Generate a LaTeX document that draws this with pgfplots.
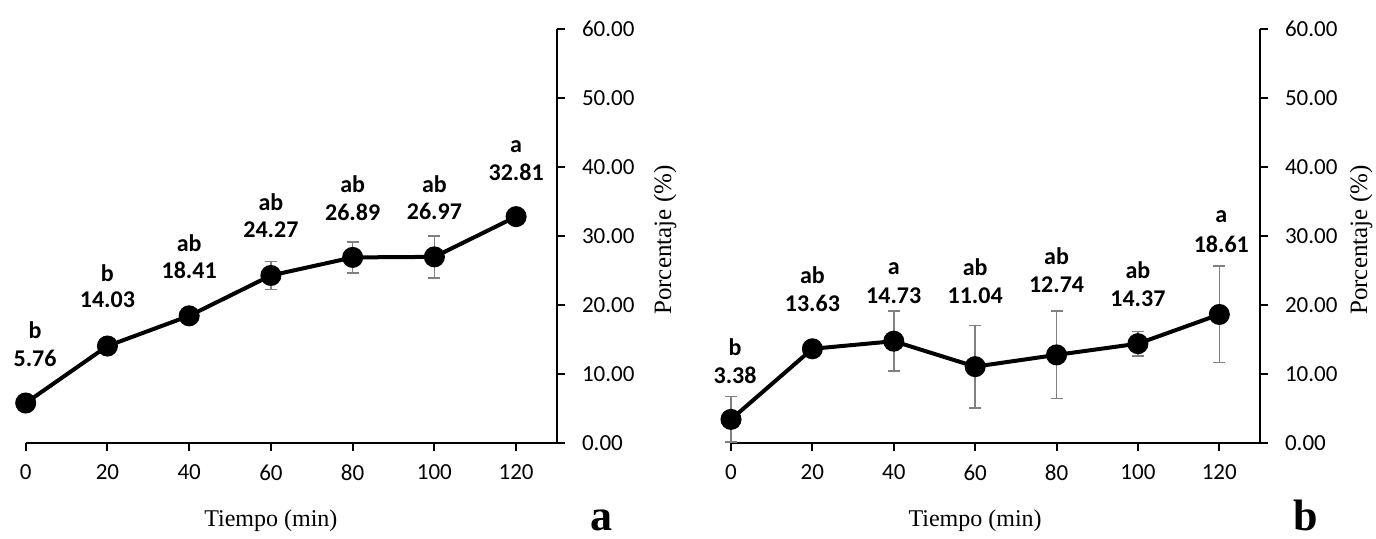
\documentclass[border=0pt]{standalone}
\usepackage{fontspec}
\setmainfont{Carlito}
\newfontfamily\timesf{Liberation Serif}
\usepackage{pgfplots}
\pgfplotsset{compat=1.18}
\usepackage{pgfplotstable}

% x: time, y: mean, e: error, lx/ly/vy: label positions, lab: letters
\pgfplotstableread{
x   y     e    lx   ly   vy   lab
0   5.76  0.5  2.3  16.3 12.2 b
20  14.03 0    20   24.6 20.7 b
40  18.41 0    40   29.0 25.0 ab
60  24.27 2.0  60   34.9 30.9 ab
80  26.89 2.25 80   37.5 33.5 ab
100 26.97 3.05 100  37.5 33.5 ab
120 32.81 1.0  120  43.0 39.2 a
}\dataA

\pgfplotstableread{
x   y     e    lx   ly   vy   lab
0   3.38  3.3  1    13.9 9.8  b
20  13.63 0    20   24.3 20.2 ab
40  14.73 4.35 40   25.3 21.3 a
60  11.04 6.0  60   25.5 21.3 ab
80  12.74 6.35 80   27.1 23.0 ab
100 14.37 1.8  100  25.0 20.9 ab
120 18.61 7.0  120.5 32.8 28.8 a
}\dataB

\tikzset{
  ytitle/.style={rotate=90, anchor=center, inner sep=0pt,
    font=\timesf\fontsize{12.5}{14}\selectfont},
}

\pgfplotsset{
  panel/.style={
    scale only axis,
    height=206.7pt,
    xmin=0, xmax=130, ymin=0, ymax=60,
    axis x line*=bottom, axis y line*=right,
    axis line style={-, line width=1pt},
    xtick={0,20,...,120}, ytick={0,10,...,60},
    tick style={black, line width=1pt},
    major tick length=4pt,
    tick align=outside,
    tick label style={font=\fontsize{11.5}{13}\selectfont},
    xticklabel style={yshift=-3.5pt},
    /pgf/number format/assume math mode=true,
    yticklabel style={xshift=5pt, /pgf/number format/.cd, fixed, fixed zerofill, precision=2},
    xlabel={Tiempo (min)},
    label style={font=\timesf\fontsize{12}{14}\selectfont},
    xlabel style={at={(axis description cs:0.4615,0)}, anchor=center, yshift=-39pt},
    clip=false,
  },
  meanline/.style={black, line width=2pt, mark=*, mark size=4.25pt,
    mark options={solid, fill=black},
    error bars/.cd, y dir=both, y explicit,
    error bar style={gray, line width=0.75pt},
    error mark options={rotate=90, mark size=3pt, gray, line width=0.75pt}},
  vallab/.style={draw=none, mark=none, nodes near coords,
    point meta=explicit,
    every node near coord/.append style={anchor=center, inner sep=0pt,
      font=\bfseries\fontsize{12}{14}\selectfont,
      /pgf/number format/.cd, fixed, fixed zerofill, precision=2,
      assume math mode=true}},
  letlab/.style={draw=none, mark=none, nodes near coords,
    point meta=explicit symbolic,
    every node near coord/.append style={anchor=center, inner sep=0pt,
      font=\bfseries\fontsize{12}{14}\selectfont}},
}

\begin{document}
\begin{tikzpicture}
\path[use as bounding box] (0,0) rectangle (688pt,269.5pt);

\begin{axis}[panel, width=265.65pt, at={(12.85pt,48.15pt)}, anchor=south west]
\addplot[meanline] table[x=x, y=y, y error=e] {\dataA};
\addplot[vallab] table[x=lx, y=vy, meta=y] {\dataA};
\addplot[letlab] table[x=lx, y=ly, meta=lab] {\dataA};
\node[ytitle] at ([xshift=54pt]axis description cs:1,0.49) {Porcentaje (\%)};
\end{axis}

\begin{axis}[panel, width=264.5pt, at={(365.5pt,48.15pt)}, anchor=south west]
\addplot[meanline] table[x=x, y=y, y error=e] {\dataB};
\addplot[vallab] table[x=lx, y=vy, meta=y] {\dataB};
\addplot[letlab] table[x=lx, y=ly, meta=lab] {\dataB};
\node[ytitle] at ([xshift=50.5pt]axis description cs:1,0.49) {Porcentaje (\%)};
\end{axis}

\node[font=\timesf\bfseries\fontsize{22}{24}\selectfont, anchor=base, inner sep=0pt] at (300.8pt,4pt) {a};
\node[font=\timesf\bfseries\fontsize{22}{24}\selectfont, anchor=base, inner sep=0pt] at (653pt,4pt) {b};
\end{tikzpicture}
\end{document}
